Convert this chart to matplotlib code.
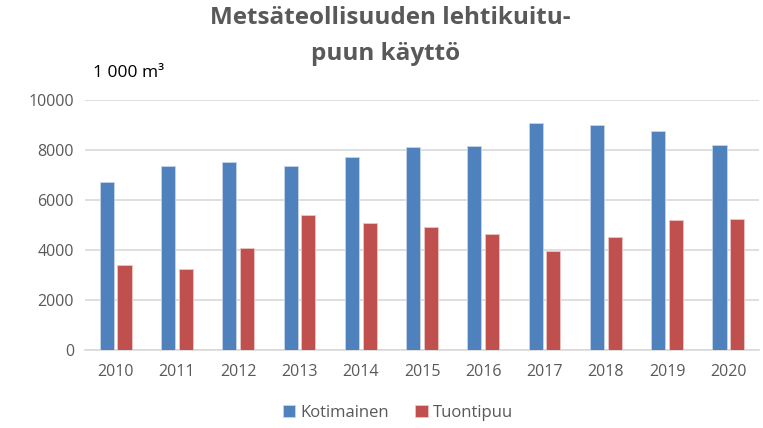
import numpy as np
import matplotlib.pyplot as plt

years = ['2010', '2011', '2012', '2013', '2014', '2015', '2016', '2017', '2018', '2019', '2020']
kotimainen = [6700, 7360, 7530, 7360, 7710, 8110, 8150, 9070, 8990, 8770, 8190]
tuontipuu = [3410, 3240, 4080, 5400, 5070, 4910, 4650, 3950, 4530, 5200, 5240]

plt.rcParams['font.family'] = ['Open Sans', 'DejaVu Sans']
grey = '#595959'

fig = plt.figure(figsize=(7.63, 4.28), dpi=100)
ax = fig.add_axes([0.1114, 0.1822, 0.8834, 0.5842])

x = np.arange(len(years))
w = 0.23
ax.bar(x - w / 2 - 0.03, kotimainen, w, color='#4F81BD', edgecolor='#C6D5EA', linewidth=0.6,
       label='Kotimainen', zorder=3)
ax.bar(x + w / 2 + 0.03, tuontipuu, w, color='#C0504D', edgecolor='#EBC5C4', linewidth=0.6,
       label='Tuontipuu', zorder=3)

ax.set_xlim(-0.5, len(years) - 0.5)
ax.set_ylim(0, 10000)
ax.set_yticks(range(0, 10001, 2000))
ax.set_xticks(x)
ax.set_xticklabels(years)
ax.grid(axis='y', color='#D9D9D9', linewidth=1.2, zorder=0)
for s in ['top', 'right', 'left']:
    ax.spines[s].set_visible(False)
ax.spines['bottom'].set_color('#D9D9D9')
ax.spines['bottom'].set_linewidth(1.2)
ax.tick_params(length=0, labelsize=11.5, colors=grey, pad=8)
ax.tick_params(axis='x', labelsize=11.5, pad=10)

fig.text(0.512, 0.958, 'Metsäteollisuuden lehtikuitu-', ha='center', va='center',
         fontsize=17.5, fontweight='bold', color=grey)
fig.text(0.505, 0.875, 'puun käyttö', ha='center', va='center',
         fontsize=17.5, fontweight='bold', color=grey)
fig.text(0.122, 0.83, '1 000 m³', ha='left', va='center', fontsize=12.5, color='black')

ax.legend(loc='center', bbox_to_anchor=(0.464, -0.252), ncol=2, frameon=False,
          fontsize=12, labelcolor=grey, handlelength=0.75, handleheight=0.75,
          handletextpad=0.3, columnspacing=1.6)

fig.savefig('out.png', dpi=100)
